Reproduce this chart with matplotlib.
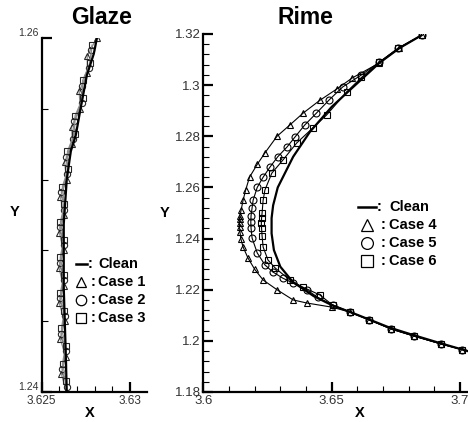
import matplotlib

matplotlib.use("Agg")
import matplotlib.pyplot as plt
from matplotlib.lines import Line2D
from matplotlib.ticker import MultipleLocator

plt.rcParams["font.family"] = ["Liberation Sans", "DejaVu Sans"]

# ---------------- Glaze (left) ----------------
glaze_clean_x = [3.62642, 3.62636, 3.62625, 3.62625, 3.62642, 3.62665, 3.62693,
                 3.62722, 3.62756, 3.62795, 3.62813, 3.62840]
glaze_clean_y = [1.2400, 1.2423, 1.2459, 1.2495, 1.2520, 1.2536, 1.2545,
                 1.2561, 1.2579, 1.2591, 1.2600, 1.2615]

case1_y = [1.2400, 1.2410, 1.2420, 1.2430, 1.2440, 1.2450, 1.2460, 1.2470, 1.2480, 1.2490,
           1.2500, 1.2510, 1.2520, 1.2530, 1.2540, 1.2550, 1.2560, 1.2570, 1.2580, 1.2590, 1.2600]
case1_x = [3.62640, 3.62612, 3.62636, 3.62605, 3.62630, 3.62600, 3.62624, 3.62598, 3.62624, 3.62600,
           3.62626, 3.62606, 3.62641, 3.62630, 3.62674, 3.62670, 3.62719, 3.62712, 3.62759, 3.62758, 3.62812]
case2_y = [1.2403, 1.2413, 1.2423, 1.2433, 1.2443, 1.2453, 1.2463, 1.2473, 1.2483, 1.2493,
           1.2503, 1.2513, 1.2523, 1.2533, 1.2543, 1.2553, 1.2563, 1.2573, 1.2583, 1.2593]
case2_x = [3.62641, 3.62615, 3.62636, 3.62609, 3.62630, 3.62603, 3.62625, 3.62601, 3.62625, 3.62602,
           3.62628, 3.62611, 3.62646, 3.62640, 3.62680, 3.62683, 3.62726, 3.62730, 3.62767, 3.62782]
case3_y = [1.2406, 1.2416, 1.2426, 1.2436, 1.2446, 1.2456, 1.2466, 1.2476, 1.2486, 1.2496,
           1.2506, 1.2516, 1.2526, 1.2536, 1.2546, 1.2556, 1.2566, 1.2576, 1.2586, 1.2596]
case3_x = [3.62640, 3.62618, 3.62635, 3.62612, 3.62629, 3.62606, 3.62625, 3.62605, 3.62625, 3.62606,
           3.62629, 3.62617, 3.62650, 3.62646, 3.62686, 3.62689, 3.62732, 3.62732, 3.62775, 3.62785]

# ---------------- Rime (right) ----------------
rime_clean_x = [3.7030, 3.6926, 3.6820, 3.6725, 3.6650, 3.6574, 3.6500, 3.6430, 3.6349, 3.6300,
                3.6275, 3.6266, 3.6266, 3.6272, 3.6290, 3.6350, 3.6415, 3.6500, 3.6570, 3.6686,
                3.6764, 3.6850]
rime_clean_y = [1.1960, 1.1990, 1.2022, 1.2052, 1.2082, 1.2112, 1.2140, 1.2175, 1.2230, 1.2290,
                1.2355, 1.2420, 1.2480, 1.2530, 1.2600, 1.2720, 1.2817, 1.2915, 1.2980, 1.3087,
                1.3145, 1.3195]

case4_x = [3.7008, 3.6926, 3.6820, 3.6733, 3.6647, 3.6570, 3.6500, 3.6403, 3.6350, 3.6287,
           3.6233, 3.6200, 3.6174, 3.6155, 3.6146, 3.6143, 3.6141, 3.6141, 3.6142, 3.6143,
           3.6147, 3.6155, 3.6165, 3.6180, 3.6210, 3.6240, 3.6287, 3.6338, 3.6388, 3.6453,
           3.6520, 3.6580, 3.6686, 3.6764, 3.6850]
case4_y = [1.1966, 1.1988, 1.2019, 1.2046, 1.2082, 1.2113, 1.2132, 1.2148, 1.2160, 1.2200,
           1.2238, 1.2280, 1.2324, 1.2367, 1.2400, 1.2425, 1.2445, 1.2460, 1.2475, 1.2490,
           1.2510, 1.2550, 1.2590, 1.2640, 1.2690, 1.2735, 1.2800, 1.2845, 1.2890, 1.2940,
           1.2985, 1.3028, 1.3087, 1.3145, 1.3195]

case5_x = [3.7008, 3.6926, 3.6820, 3.6733, 3.6647, 3.6570, 3.6504, 3.6446, 3.6403, 3.6350,
           3.6310, 3.6270, 3.6240, 3.6210, 3.6190, 3.6186, 3.6185, 3.6186, 3.6190, 3.6194,
           3.6210, 3.6233, 3.6260, 3.6290, 3.6326, 3.6357, 3.6395, 3.6440, 3.6490, 3.6543,
           3.6616, 3.6686, 3.6760, 3.6850]
case5_y = [1.1966, 1.1988, 1.2019, 1.2046, 1.2082, 1.2113, 1.2140, 1.2170, 1.2200, 1.2226,
           1.2245, 1.2270, 1.2297, 1.2344, 1.2402, 1.2440, 1.2465, 1.2490, 1.2520, 1.2550,
           1.2600, 1.2640, 1.2680, 1.2720, 1.2758, 1.2797, 1.2844, 1.2890, 1.2942, 1.2993,
           1.3040, 1.3090, 1.3145, 1.3195]

case6_x = [3.7008, 3.6926, 3.6820, 3.6733, 3.6647, 3.6570, 3.6504, 3.6453, 3.6388, 3.6337,
           3.6280, 3.6252, 3.6233, 3.6229, 3.6227, 3.6226, 3.6227, 3.6229, 3.6233, 3.6240,
           3.6267, 3.6310, 3.6364, 3.6426, 3.6480, 3.6558, 3.6616, 3.6686, 3.6760, 3.6850]
case6_y = [1.1966, 1.1988, 1.2019, 1.2046, 1.2082, 1.2113, 1.2140, 1.2180, 1.2210, 1.2238,
           1.2285, 1.2316, 1.2367, 1.2410, 1.2440, 1.2460, 1.2480, 1.2500, 1.2550, 1.2590,
           1.2656, 1.2707, 1.2774, 1.2832, 1.2883, 1.2973, 1.3030, 1.3090, 1.3145, 1.3195]

W, H = 468, 422
fig = plt.figure(figsize=(W / 100, H / 100), dpi=100)


def px_axes(x0, y0, x1, y1):
    return fig.add_axes([x0 / W, 1 - y1 / H, (x1 - x0) / W, (y1 - y0) / H])


def style_axes(ax, fs):
    for side in ("top", "right"):
        ax.spines[side].set_visible(False)
    for side in ("left", "bottom"):
        ax.spines[side].set_linewidth(1.6)
    ax.tick_params(which="major", direction="in", length=7, width=1.6, labelsize=fs,
                   labelcolor="#333333", pad=2)
    ax.tick_params(which="minor", direction="in", length=4, width=0.8)


ax1 = px_axes(41.7, 38, 146.7, 392)
mk = dict(mfc="none", ms=4.5, mew=0.8, lw=0.9, color="0.55", mec="0.15")
ax1.plot(case1_x, case1_y, marker="^", **mk)
ax1.plot(case2_x, case2_y, marker="o", **mk)
ax1.plot(case3_x, case3_y, marker="s", **mk)
ax1.plot(glaze_clean_x, glaze_clean_y, color="black", lw=1.6)
ax1.set_xlim(3.625, 3.63095)
ax1.set_ylim(1.24, 1.26)
ax1.set_xticks([3.625, 3.63], ["3.625", "3.63"])
ax1.set_yticks([1.24, 1.26], ["1.24", "1.26"])
ax1.xaxis.set_minor_locator(MultipleLocator(0.001))
ax1.yaxis.set_minor_locator(MultipleLocator(0.004))
style_axes(ax1, 8.5)
for lbl in ax1.get_yticklabels():
    lbl.set_fontsize(7.5)
    lbl.set_verticalalignment("bottom")

ax2 = px_axes(203.3, 34, 468, 392)
mk2 = dict(mfc="none", ms=5, mew=0.8, lw=0.8, color="black")
ax2.plot(case4_x, case4_y, marker="^", **mk2)
ax2.plot(case5_x, case5_y, marker="o", **mk2)
ax2.plot(case6_x, case6_y, marker="s", **mk2)
ax2.plot(rime_clean_x, rime_clean_y, color="black", lw=1.6)
ax2.set_xlim(3.6, 3.7031)
ax2.set_ylim(1.18, 1.32)
ax2.set_xticks([3.6, 3.65, 3.7], ["3.6", "3.65", "3.7"])
ax2.set_yticks([1.18, 1.2, 1.22, 1.24, 1.26, 1.28, 1.3, 1.32],
               ["1.18", "1.2", "1.22", "1.24", "1.26", "1.28", "1.3", "1.32"])
ax2.xaxis.set_minor_locator(MultipleLocator(0.01))
ax2.yaxis.set_minor_locator(MultipleLocator(0.004))
style_axes(ax2, 9.5)

# titles and axis labels
bold = dict(fontweight="bold", ha="center", va="center")
fig.text(102 / W, 1 - 17 / H, "Glaze", fontsize=16.5, **bold)
fig.text(305 / W, 1 - 17 / H, "Rime", fontsize=16.5, **bold)
fig.text(15 / W, 1 - 212 / H, "Y", fontsize=10.5, **bold)
fig.text(165 / W, 1 - 213 / H, "Y", fontsize=10.5, **bold)
fig.text(90 / W, 1 - 413 / H, "X", fontsize=10.5, **bold)
fig.text(360 / W, 1 - 413 / H, "X", fontsize=10.5, **bold)


def legend(x0, y0, dy, names, markers, line_len, mark_dx, colon_dx, text_dx, ms):
    # x0: left end of the "Clean" line sample, y0: centre of the first row (pixels)
    fy = lambda y: 1 - y / H
    txt = dict(fontsize=10.5, fontweight="bold", va="center")
    fig.add_artist(Line2D([x0 / W, (x0 + line_len) / W], [fy(y0), fy(y0)], color="black",
                          lw=1.8, transform=fig.transFigure))
    fig.text((x0 + line_len + 1) / W, fy(y0), ":", **txt)
    fig.text((x0 + text_dx) / W, fy(y0), "Clean", **txt)
    for i, (name, m) in enumerate(zip(names, markers)):
        y = y0 + (i + 1) * dy
        fig.add_artist(Line2D([(x0 + mark_dx) / W], [fy(y)], marker=m, ms=ms, mfc="none",
                              mec="black", mew=0.9, transform=fig.transFigure))
        fig.text((x0 + colon_dx) / W, fy(y), ":", **txt)
        fig.text((x0 + text_dx) / W, fy(y), name, **txt)


legend(76, 264, 18, ["Case 1", "Case 2", "Case 3"], ["^", "o", "s"],
       line_len=11, mark_dx=5, colon_dx=15, text_dx=22, ms=7.5)
legend(358, 207, 18, ["Case 4", "Case 5", "Case 6"], ["^", "o", "s"],
       line_len=18, mark_dx=9, colon_dx=23, text_dx=31, ms=8.5)

fig.savefig("out.png", dpi=100)
